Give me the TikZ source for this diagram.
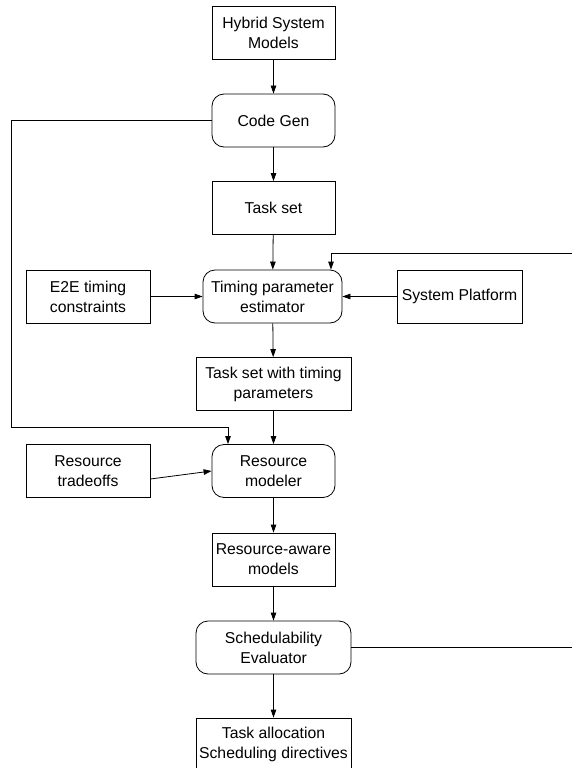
\documentclass[tikz,border=0pt]{standalone}
\usepackage{fontspec}
\setmainfont{Liberation Sans}
\usetikzlibrary{arrows.meta}
\usetikzlibrary{positioning}
\tikzset{box/.style = {draw, rectangle, align = center, inner sep = 0, minimum width = 123bp, minimum height = 53bp, font = \fontsize{15.8}{20}\selectfont}}
\tikzset{rbox/.style = {box, rounded corners = 12bp}}
\tikzset{arr/.style = {-{Triangle[length = 8bp, width = 5.5bp]}}}

\begin{document}
\begin{tikzpicture}[x=1bp, y=-1bp, line width=0.8bp]
      \useasboundingbox (0, 0) rectangle (572, 768);

      \node [box] (hsm) at (273.5, 32.5) {Hybrid System\\Models};
      \node [rbox] (codegen) at (273.5, 120.5) {Code Gen};
      \node [box] (taskset) at (273.5, 208) {Task set};
      \node [rbox, minimum width = 139bp] (estimator) at (272.5, 296.5) {Timing parameter\\estimator};
      \node [box, minimum width = 124bp] (e2e) at (88, 296.5) {E2E timing\\constraints};
      \node [box, minimum width = 125bp] (platform) at (459.5, 296.5) {System Platform};
      \node [box, minimum width = 155bp] (timedset) at (273.5, 384) {Task set with timing\\parameters};
      \node [rbox] (modeler) at (273.5, 471) {Resource\\modeler};
      \node [box, minimum width = 124bp] (tradeoffs) at (88, 471) {Resource\\tradeoffs};
      \node [box] (aware) at (273.5, 559.5) {Resource-aware\\models};
      \node [rbox, minimum width = 155bp] (sched) at (273.5, 647.5) {Schedulability\\Evaluator};
      \node [box, minimum width = 155bp] (alloc) at (273.5, 744.5) {Task allocation\\Scheduling directives};

      \coordinate (cgturn) at (11, 427);
      \coordinate (fbin) at (572, 253);
      \coordinate (schedout) at (572, 647.5);

      \draw [arr] (hsm) -- (codegen);
      \draw [arr] (codegen) -- (taskset);
      \draw [arr] (taskset) -- (estimator);
      \draw [arr] (e2e) -- (estimator);
      \draw [arr] (platform) -- (estimator);
      \draw [arr] (estimator) -- (timedset);
      \draw [arr] (timedset) -- (modeler);
      \draw [arr] ([yshift=-8bp]tradeoffs.east) -- (modeler.west);
      \draw [arr] (modeler) -- (aware);
      \draw [arr] (aware) -- (sched);
      \draw [arr] (sched) -- (alloc);

      \draw [arr] (codegen.west) -| (cgturn) -| ([xshift=-45.5bp]modeler.north);
      \draw [arr] (fbin) -| ([xshift=58.5bp]estimator.north);
      \draw (sched.east) -- (schedout);
\end{tikzpicture}
\end{document}
